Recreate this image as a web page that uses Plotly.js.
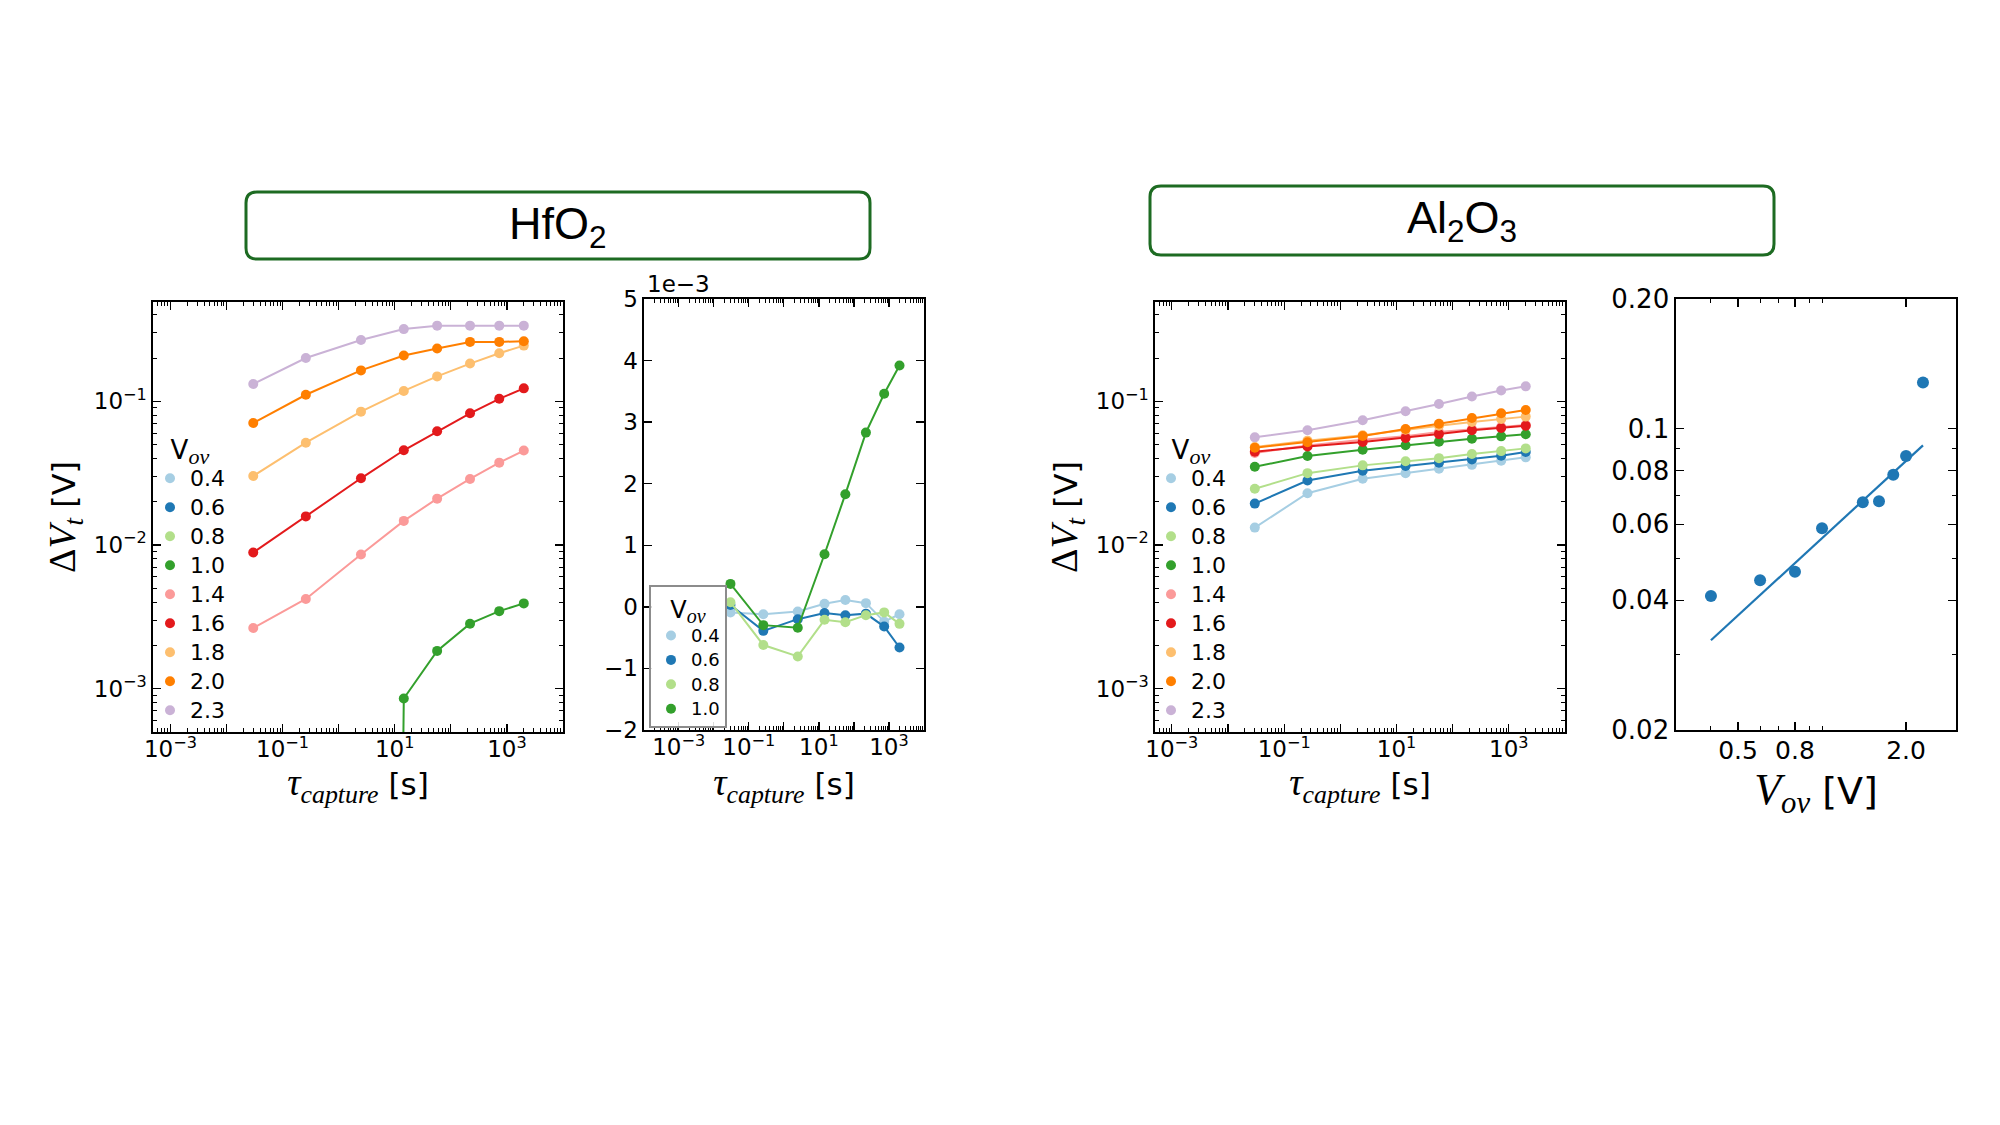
<!DOCTYPE html>
<html>
<head>
<meta charset="utf-8">
<script src="https://cdn.plot.ly/plotly-3.0.1.min.js"></script>
<style>
  html, body { margin: 0; padding: 0; background: #fff; }
  #chart { width: 2000px; height: 1125px; }
</style>
</head>
<body>
<div id="chart"></div>
<script>
// capture times [s], same for every curve
const tauCapture = [0.03, 0.26, 2.5, 14.5, 57, 220, 730, 2000];

const vOvLabels = ["0.4", "0.6", "0.8", "1.0", "1.4", "1.6", "1.8", "2.0", "2.3"];
const pairedColors = ["#a6cee3", "#1f78b4", "#b2df8a", "#33a02c", "#fb9a99", "#e31a1c", "#fdbf6f", "#ff7f00", "#cab2d6"];

// HfO2, delta Vt [V]
const hfo2V04 = [-0.09e-3, -0.12e-3, -0.076e-3, 0.05e-3, 0.11e-3, 0.06e-3, -0.24e-3, -0.12e-3];
const hfo2V06 = [0.03e-3, -0.39e-3, -0.20e-3, -0.10e-3, -0.135e-3, -0.11e-3, -0.32e-3, -0.66e-3];
const hfo2V08 = [0.076e-3, -0.62e-3, -0.805e-3, -0.21e-3, -0.25e-3, -0.135e-3, -0.09e-3, -0.276e-3];
const hfo2V10 = [0.373e-3, -0.297e-3, -0.34e-3, 0.854e-3, 1.83e-3, 2.83e-3, 3.46e-3, 3.92e-3];
const hfo2V14 = [0.00264, 0.00421, 0.00857, 0.0147, 0.0210, 0.0288, 0.0374, 0.0454];
const hfo2V16 = [0.00885, 0.0158, 0.0291, 0.0456, 0.0618, 0.0825, 0.104, 0.123];
const hfo2V18 = [0.0302, 0.0515, 0.0847, 0.118, 0.149, 0.183, 0.216, 0.244];
const hfo2V20 = [0.0706, 0.111, 0.164, 0.208, 0.233, 0.259, 0.259, 0.262];
const hfo2V23 = [0.132, 0.200, 0.267, 0.318, 0.336, 0.336, 0.336, 0.336];

// Al2O3, delta Vt [V]
const al2o3V04 = [0.0132, 0.0229, 0.0289, 0.0316, 0.0339, 0.0361, 0.0386, 0.0407];
const al2o3V06 = [0.0194, 0.0281, 0.0328, 0.0354, 0.0373, 0.0394, 0.0418, 0.0443];
const al2o3V08 = [0.0246, 0.0316, 0.0358, 0.0382, 0.0402, 0.0429, 0.0450, 0.0470];
const al2o3V10 = [0.0350, 0.0416, 0.0460, 0.0494, 0.0523, 0.0549, 0.0570, 0.0589];
const al2o3V14 = [0.0436, 0.0493, 0.0540, 0.0570, 0.0611, 0.0641, 0.0662, 0.0684];
const al2o3V16 = [0.0446, 0.0485, 0.0520, 0.0555, 0.0591, 0.0628, 0.0652, 0.0676];
const al2o3V18 = [0.0480, 0.0532, 0.0580, 0.0634, 0.0676, 0.0717, 0.0753, 0.0782];
const al2o3V20 = [0.0475, 0.0518, 0.0573, 0.0641, 0.0698, 0.0765, 0.0825, 0.0870];
const al2o3V23 = [0.0561, 0.0628, 0.0737, 0.0852, 0.0958, 0.108, 0.119, 0.127];

// Al2O3 delta Vt at the longest capture time vs overdrive
const vOv = [0.4, 0.6, 0.8, 1.0, 1.4, 1.6, 1.8, 2.0, 2.3];
const dVtEnd = [0.0409, 0.0445, 0.0466, 0.0588, 0.0675, 0.0679, 0.0782, 0.0864, 0.128];
const fitVov = [0.4, 2.3];
const fitDVt = [0.0323, 0.0915];

// axis tick labels
const timeDecades = [-4, -3, -2, -1, 0, 1, 2, 3, 4];
const timeLabelled = [-3, -1, 1, 3];
const dvtDecades = [-3, -2, -1];
const hfo2LinTicks = [-2, -1, 0, 1, 2, 3, 4, 5];
const vovTicks = [0.5, 0.8, 2.0];
const vovMinor = [0.4, 0.6, 0.7, 0.9, 1.0];
const endTicks = [0.02, 0.04, 0.06, 0.08, 0.1, 0.2];
const endTickText = ["0.02", "0.04", "0.06", "0.08", "0.1", "0.20"];
const endMinor = [0.03, 0.05, 0.07, 0.09];

const hfo2Series = [hfo2V04, hfo2V06, hfo2V08, hfo2V10, hfo2V14, hfo2V16, hfo2V18, hfo2V20, hfo2V23];
const al2o3Series = [al2o3V04, al2o3V06, al2o3V08, al2o3V10, al2o3V14, al2o3V16, al2o3V18, al2o3V20, al2o3V23];

const W = 2000, H = 1125;
const px = (x) => x / W;
const py = (y) => 1 - y / H;

const SANS = "DejaVu Sans, sans-serif";
const SERIF = "Liberation Serif, DejaVu Serif, serif";
const MINUS = "\u2212";

// matplotlib clips non-positive values on a log axis instead of dropping them
const clipLog = (v) => (v > 0 ? v : 1e-30);

const decadeMinor = (decades) => {
  const out = [];
  for (let e = decades[0] - 1; e <= decades[decades.length - 1]; e++) {
    for (let k = 2; k <= 9; k++) out.push(k * Math.pow(10, e));
  }
  return out;
};

const powLabel = (e) => `10<sup>${e < 0 ? MINUS + Math.abs(e) : e}</sup>`;

const minorTicks = (vals) => ({
  tickmode: "array",
  tickvals: vals,
  ticks: "inside",
  ticklen: 4,
  tickwidth: 1,
  tickcolor: "#000",
  showgrid: false,
});

const baseAxis = (domain, anchor, fontSize) => ({
  domain,
  anchor,
  showline: true,
  linecolor: "#000",
  linewidth: 1.6,
  mirror: "allticks",
  ticks: "inside",
  ticklen: 8,
  tickwidth: 1.3,
  tickcolor: "#000",
  showgrid: false,
  zeroline: false,
  tickfont: { family: SANS, size: fontSize, color: "#000" },
});

const timeAxis = (domain, anchor, range, standoff) => ({
  ...baseAxis(domain, anchor, 23),
  type: "log",
  range,
  ticklabelstandoff: -4,
  tickmode: "array",
  tickvals: timeDecades.map((e) => Math.pow(10, e)),
  ticktext: timeDecades.map((e) => (timeLabelled.includes(e) ? powLabel(e) : "")),
  minor: minorTicks(decadeMinor(timeDecades)),
  title: {
    text: `<span style="font-family:${SERIF};font-size:37px"><i>τ</i><sub><i>capture</i></sub></span> [s]`,
    font: { family: SANS, size: 31, color: "#000" },
    standoff,
  },
});

const dvtAxis = (domain, anchor) => ({
  ...baseAxis(domain, anchor, 23),
  type: "log",
  range: [-3.302, -0.309],
  tickmode: "array",
  tickvals: dvtDecades.map((e) => Math.pow(10, e)),
  ticktext: dvtDecades.map(powLabel),
  minor: minorTicks(decadeMinor(dvtDecades)),
  title: {
    text: `<span style="font-family:${SERIF};font-size:38px">Δ<i>V</i><sub><i>t</i></sub></span> [V]`,
    font: { family: SANS, size: 32, color: "#000" },
    standoff: 8,
  },
});

const traces = [];

const addCurves = (series, count, xa, ya, legendName, labelSize) => {
  for (let i = 0; i < count; i++) {
    const ys = xa === "x2" ? series[i] : series[i].map(clipLog);
    traces.push({
      x: tauCapture,
      y: ys,
      xaxis: xa,
      yaxis: ya,
      mode: "lines",
      line: { color: pairedColors[i], width: 2 },
      showlegend: false,
      hoverinfo: "skip",
    });
    traces.push({
      x: tauCapture,
      y: ys,
      xaxis: xa,
      yaxis: ya,
      mode: "markers",
      marker: { color: pairedColors[i], size: 10, line: { width: 0 } },
      name: `<span style="font-size:${labelSize}px">${vOvLabels[i]}</span>`,
      legend: legendName,
      showlegend: true,
    });
  }
};

addCurves(hfo2Series, 9, "x", "y", "legend", 22);
addCurves(hfo2Series, 4, "x2", "y2", "legend2", 18);
addCurves(al2o3Series, 9, "x3", "y3", "legend3", 22);

traces.push({
  x: fitVov,
  y: fitDVt,
  xaxis: "x4",
  yaxis: "y4",
  mode: "lines",
  line: { color: "#1f77b4", width: 2.2 },
  showlegend: false,
});
traces.push({
  x: vOv,
  y: dVtEnd,
  xaxis: "x4",
  yaxis: "y4",
  mode: "markers",
  marker: { color: "#1f77b4", size: 12, line: { width: 0 } },
  showlegend: false,
});

const roundRect = (x0, y0, x1, y1, r) => {
  const rx = r / W, ry = r / H;
  const L = px(x0), R = px(x1), T = py(y0), B = py(y1);
  return `M ${L + rx},${T} L ${R - rx},${T} Q ${R},${T} ${R},${T - ry} L ${R},${B + ry} Q ${R},${B} ${R - rx},${B} ` +
    `L ${L + rx},${B} Q ${L},${B} ${L},${B + ry} L ${L},${T - ry} Q ${L},${T} ${L + rx},${T} Z`;
};

const boxLine = { color: "#1d6b22", width: 3 };
const boxFont = { family: "Liberation Sans Narrow, Liberation Sans, Arial, sans-serif", size: 45, color: "#000" };

const legendTitle = (sub) => `V<sub><span style="font-family:${SERIF};font-size:${sub}px"><i>ov</i></span></sub>`;

const sideLegend = (x, y) => ({
  x: px(x),
  y: py(y),
  xanchor: "left",
  yanchor: "top",
  bgcolor: "rgba(255,255,255,0)",
  borderwidth: 0,
  font: { family: SANS, size: 20, color: "#000" },
  title: { text: legendTitle(22), side: "top center", font: { family: SANS, size: 26, color: "#000" } },
  tracegroupgap: 0,
  itemclick: false,
});

const layout = {
  width: W,
  height: H,
  margin: { l: 0, r: 0, t: 0, b: 0 },
  paper_bgcolor: "#fff",
  plot_bgcolor: "#fff",
  showlegend: true,
  xaxis: timeAxis([px(153), px(563)], "y", [-3.31, 4.0], 0),
  yaxis: dvtAxis([py(732), py(302)], "x"),
  xaxis2: timeAxis([px(644), px(924)], "y2", [-3.99, 4.0], 14),
  yaxis2: {
    ...baseAxis([py(730), py(299)], "x2", 23),
    type: "linear",
    range: [-2e-3, 5e-3],
    tickmode: "array",
    tickvals: hfo2LinTicks.map((v) => v * 1e-3),
    ticktext: hfo2LinTicks.map((v) => (v < 0 ? MINUS + Math.abs(v) : String(v))),
  },
  xaxis3: timeAxis([px(1155), px(1565)], "y3", [-3.30, 4.0], 0),
  yaxis3: dvtAxis([py(732), py(302)], "x3"),
  xaxis4: {
    ...baseAxis([px(1676), px(1956)], "y4", 25),
    type: "log",
    range: [Math.log10(0.2998), Math.log10(3.02)],
    ticklabelstandoff: -3,
    tickmode: "array",
    tickvals: vovTicks,
    ticktext: vovTicks.map((v) => v.toFixed(1)),
    minor: minorTicks(vovMinor),
    title: {
      text: `<span style="font-family:${SERIF};font-size:44px"><i>V</i><sub><i>ov</i></sub></span> [V]`,
      font: { family: SANS, size: 38, color: "#000" },
      standoff: 0,
    },
  },
  yaxis4: {
    ...baseAxis([py(730), py(299)], "x4", 26),
    type: "log",
    range: [Math.log10(0.02), Math.log10(0.2)],
    tickmode: "array",
    tickvals: endTicks,
    ticktext: endTickText,
    minor: minorTicks(endMinor),
  },
  legend: sideLegend(150, 425),
  legend3: sideLegend(1151, 425),
  legend2: {
    x: px(649),
    y: py(585),
    xanchor: "left",
    yanchor: "top",
    bgcolor: "rgba(255,255,255,0.85)",
    bordercolor: "#8c8c8c",
    borderwidth: 2,
    font: { family: SANS, size: 16.5, color: "#000" },
    title: { text: legendTitle(20), side: "top center", font: { family: SANS, size: 24, color: "#000" } },
    tracegroupgap: 0,
    itemclick: false,
  },
  shapes: [
    { type: "path", xref: "paper", yref: "paper", path: roundRect(246, 192, 870, 259, 11), line: boxLine, fillcolor: "rgba(0,0,0,0)" },
    { type: "path", xref: "paper", yref: "paper", path: roundRect(1150, 186, 1774, 255, 11), line: boxLine, fillcolor: "rgba(0,0,0,0)" },
  ],
  annotations: [
    {
      xref: "paper", yref: "paper", x: px(558), y: py(226),
      text: "HfO<sub>2</sub>", showarrow: false, xanchor: "center", yanchor: "middle", font: boxFont,
    },
    {
      xref: "paper", yref: "paper", x: px(1462), y: py(221),
      text: "Al<sub>2</sub>O<sub>3</sub>", showarrow: false, xanchor: "center", yanchor: "middle", font: boxFont,
    },
    {
      xref: "paper", yref: "paper", x: px(645), y: py(284),
      text: "1e" + MINUS + "3", showarrow: false, xanchor: "left", yanchor: "middle",
      font: { family: SANS, size: 23, color: "#000" },
    },
  ],
};

Plotly.newPlot("chart", traces, layout, { staticPlot: true, displayModeBar: false });
</script>
</body>
</html>
